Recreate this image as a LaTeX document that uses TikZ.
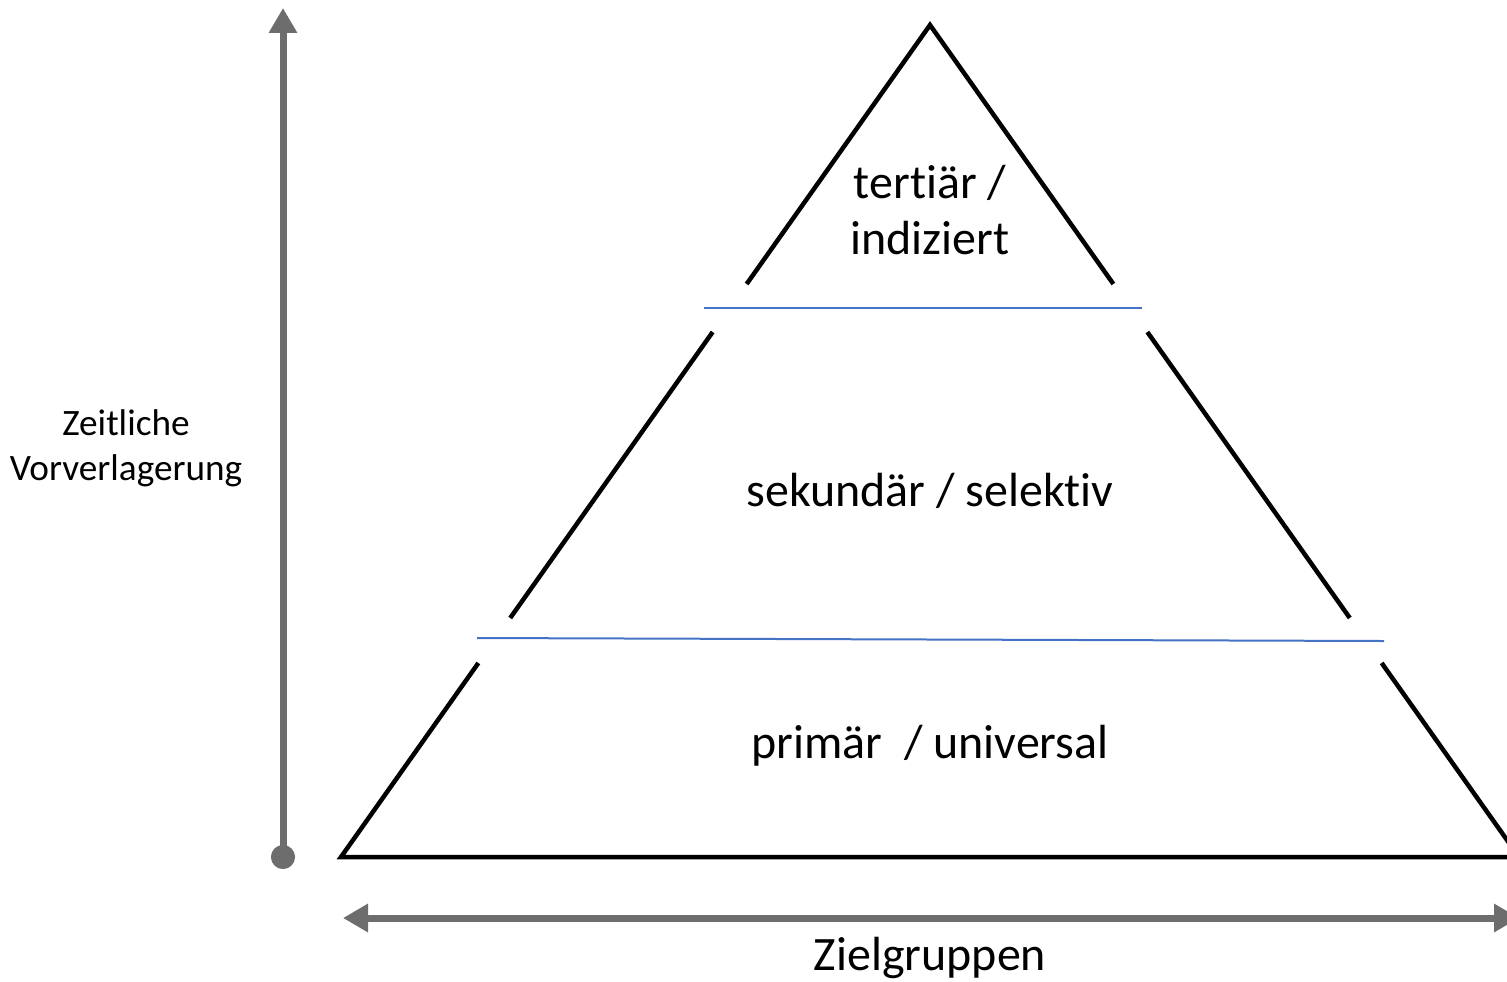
\documentclass[tikz,border=0pt]{standalone}
\usepackage{fontspec}
\setmainfont[RawFeature=-liga]{Carlito}
\usetikzlibrary{arrows.meta,calc}
\definecolor{axisgray}{RGB}{109,109,109}
\definecolor{layerblue}{RGB}{68,114,196}

\begin{document}
\begin{tikzpicture}[
        x=0.02cm, y=-0.02cm,
        every node/.style={align=center}
    ]
        \useasboundingbox (0,0) rectangle (1507,981);

        % Pyramid corners
        \coordinate (apex) at (930,25);
        \coordinate (bl) at (341,857);
        \coordinate (br) at (1519,857);
        \coordinate (l1) at ($(apex)!0.3113!(bl)$);
        \coordinate (r1) at ($(apex)!0.3113!(br)$);
        \coordinate (l2) at ($(apex)!0.369!(bl)$);
        \coordinate (r2) at ($(apex)!0.369!(br)$);
        \coordinate (l3) at ($(apex)!0.7127!(bl)$);
        \coordinate (r3) at ($(apex)!0.7127!(br)$);
        \coordinate (l4) at ($(apex)!0.7668!(bl)$);
        \coordinate (r4) at ($(apex)!0.7668!(br)$);

        % Layers
        \draw[line width=0.09cm] (l1) -- (apex) -- (r1);
        \draw[line width=0.09cm] (l2) -- (l3);
        \draw[line width=0.09cm] (r2) -- (r3);
        \draw[line width=0.09cm] (l4) -- (bl) -- (br) -- (r4);

        % Separators
        \coordinate (s1a) at (704,308);
        \coordinate (s1b) at (1142,308);
        \coordinate (s2a) at (477,638);
        \coordinate (s2b) at (1384,641);
        \draw[layerblue, line width=0.04cm] (s1a) -- (s1b);
        \draw[layerblue, line width=0.04cm] (s2a) -- (s2b);

        % Labels
        \node[font=\fontsize{27.3}{31.8}\selectfont] (tert) at (930,210) {tertiär /\\indiziert};
        \node[font=\fontsize{27.3}{31.8}\selectfont] (sek) at (930,491) {sekundär / selektiv};
        \node[font=\fontsize{27.3}{31.8}\selectfont] (prim) at (930,746) {primär~~/ universal};

        % Axes
        \coordinate (vstart) at (283,869);
        \coordinate (vend) at (283,8);
        \draw[axisgray, line width=0.14cm, {Circle[length=0.48cm]}-{Triangle[width=0.54cm,length=0.5cm]}] (vstart) -- (vend);
        \coordinate (hstart) at (343,918);
        \coordinate (hend) at (1519,918);
        \draw[axisgray, line width=0.14cm, {Triangle[width=0.54cm,length=0.5cm]}-{Triangle[width=0.54cm,length=0.5cm]}] (hstart) -- (hend);

        \node[font=\fontsize{21.2}{25.5}\selectfont] (zeit) at (126,448) {Zeitliche\\Vorverlagerung};
        \node[font=\fontsize{27.3}{31.8}\selectfont] (ziel) at (930,958) {Zielgruppen};
    \end{tikzpicture}
\end{document}
